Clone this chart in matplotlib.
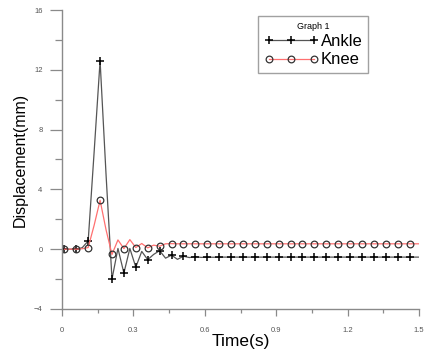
"""Ankle / knee displacement vs time (Origin-style plot)."""

import matplotlib

matplotlib.use("Agg")
import matplotlib.pyplot as plt  # noqa: E402
import numpy as np  # noqa: E402

plt.rcParams["font.family"] = ["Liberation Sans", "DejaVu Sans"]

# --- data ---------------------------------------------------------------

# sampling grid (s); markers are drawn on every second sample
time_s = np.round(0.01 + 0.025 * np.arange(61), 3)

ankle_mm = [
    0.0, 0.0, 0.0, 0.1, 0.55, 6.5, 12.6, 5.0, -2.0, 0.05,
    -1.6, 0.05, -1.2, -0.15, -0.7, -0.35, -0.1, -0.6, -0.4, -0.68,
    -0.47, -0.56, -0.5, -0.55, -0.53, -0.54, -0.53, -0.53, -0.53, -0.53,
    -0.53, -0.53, -0.53, -0.53, -0.53, -0.53, -0.53, -0.53, -0.53, -0.53,
    -0.53, -0.53, -0.53, -0.53, -0.53, -0.53, -0.53, -0.53, -0.53, -0.53,
    -0.53, -0.53, -0.53, -0.53, -0.53, -0.53, -0.53, -0.53, -0.53, -0.53,
    -0.53,
]

knee_mm = [
    0.0, 0.0, 0.0, 0.03, 0.11, 1.6, 3.27, 1.3, -0.35, 0.62,
    0.04, 0.64, 0.11, 0.38, 0.09, 0.27, 0.2, 0.36, 0.37, 0.36,
    0.36, 0.36, 0.36, 0.36, 0.36, 0.36, 0.36, 0.36, 0.36, 0.36,
    0.36, 0.36, 0.36, 0.36, 0.36, 0.36, 0.36, 0.36, 0.36, 0.36,
    0.36, 0.36, 0.36, 0.36, 0.36, 0.36, 0.36, 0.36, 0.36, 0.36,
    0.36, 0.36, 0.36, 0.36, 0.36, 0.36, 0.36, 0.36, 0.36, 0.36,
    0.36,
]

x_ticks = [0, 0.3, 0.6, 0.9, 1.2, 1.5]
x_tick_labels = ["0", "0.3", "0.6", "0.9", "1.2", "1.5"]
y_ticks = [-4, 0, 4, 8, 12, 16]

# --- plot ---------------------------------------------------------------

fig = plt.figure(figsize=(4.29, 3.51), dpi=100)
ax = fig.add_axes([0.1445, 0.1197, 0.8325, 0.8518])

marks = slice(0, 59, 2)
ax.plot(time_s, ankle_mm, color="#555555", linewidth=0.9,
        marker="+", markersize=5.5, markeredgewidth=1.1,
        markeredgecolor="black", markevery=marks, label="Ankle")
ax.plot(time_s, knee_mm, color="#ff7070", linewidth=0.9,
        marker="o", markersize=4.8, markeredgewidth=0.9,
        markerfacecolor="none", markeredgecolor="#333333",
        markevery=marks, label="Knee")

ax.set_xlim(0, 1.5)
ax.set_ylim(-4, 16)
ax.set_xticks(x_ticks)
ax.set_xticklabels(x_tick_labels)
ax.set_xticks(np.arange(0.15, 1.5, 0.3), minor=True)
ax.set_yticks(y_ticks)
ax.set_yticks(np.arange(-2, 16, 4), minor=True)

for side in ("top", "right"):
    ax.spines[side].set_visible(False)
for side in ("left", "bottom"):
    ax.spines[side].set_color("#8a8a8a")
    ax.spines[side].set_linewidth(1.0)

ax.tick_params(axis="x", which="major", length=5, width=0.9,
               color="#8a8a8a", labelsize=5.5, labelcolor="#555555", pad=8)
ax.tick_params(axis="x", which="minor", length=3, width=0.9, color="#8a8a8a")
ax.tick_params(axis="y", which="major", length=9, width=0.9,
               color="#8a8a8a", labelsize=5.5, labelcolor="#555555", pad=5)
ax.tick_params(axis="y", which="minor", length=5, width=0.9, color="#8a8a8a")

ax.set_xlabel("Time(s)", fontsize=12.5, labelpad=0)
ax.set_ylabel("Displacement(mm)", fontsize=11.5, labelpad=4)

leg = ax.legend(title="Graph 1", loc="upper left",
                bbox_to_anchor=(0.549, 0.98), numpoints=3,
                handlelength=3.3, handletextpad=0.1, fontsize=12,
                title_fontsize=6.5, frameon=True, fancybox=False,
                borderpad=0.35, labelspacing=0.2, borderaxespad=0)
leg.get_frame().set_edgecolor("#8a8a8a")
leg.get_frame().set_linewidth(1.0)

fig.savefig("out.png", dpi=100)
plt.close(fig)
